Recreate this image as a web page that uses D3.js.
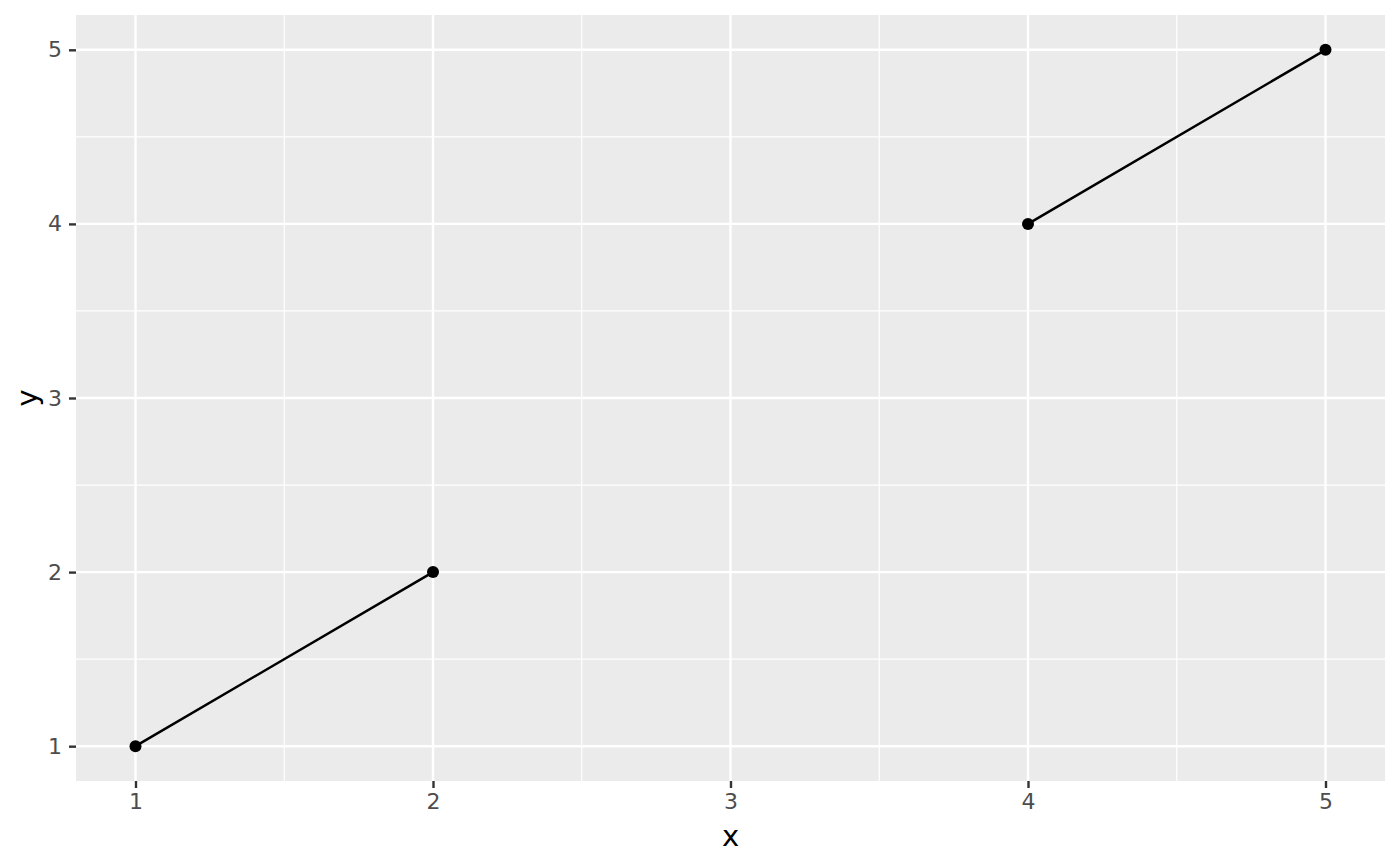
<!DOCTYPE html>
<html><head><meta charset="utf-8">
<script src="https://cdn.jsdelivr.net/npm/d3@7"></script>
<style>body{margin:0;background:#fff}svg{display:block}text{font-family:"DejaVu Sans",sans-serif}</style>
</head><body>
<svg id="c" width="1400" height="866"></svg>
<script>
const xValues = [1, 2, 3, 4, 5];
const yValues = [1, 2, null, 4, 5];
const xTicks = [1, 2, 3, 4, 5];
const yTicks = [1, 2, 3, 4, 5];
const xMinor = [1.5, 2.5, 3.5, 4.5];
const yMinor = [1.5, 2.5, 3.5, 4.5];

const svg = d3.select("#c");
const L = 76, R = 1385, T = 15, B = 781;
const x = d3.scaleLinear().domain([0.8, 5.2]).range([L, R]);
const y = d3.scaleLinear().domain([0.8, 5.2]).range([B, T]);

svg.append("rect").attr("x", L).attr("y", T).attr("width", R - L).attr("height", B - T).attr("fill", "#ebebeb");
const g = svg.append("g");
g.selectAll(".xm").data(xMinor).join("line").attr("x1", d => x(d)).attr("x2", d => x(d)).attr("y1", T).attr("y2", B).attr("stroke", "#fff").attr("stroke-width", 1.2);
g.selectAll(".ym").data(yMinor).join("line").attr("y1", d => y(d)).attr("y2", d => y(d)).attr("x1", L).attr("x2", R).attr("stroke", "#fff").attr("stroke-width", 1.2);
g.selectAll(".xM").data(xTicks).join("line").attr("x1", d => x(d)).attr("x2", d => x(d)).attr("y1", T).attr("y2", B).attr("stroke", "#fff").attr("stroke-width", 2.4);
g.selectAll(".yM").data(yTicks).join("line").attr("y1", d => y(d)).attr("y2", d => y(d)).attr("x1", L).attr("x2", R).attr("stroke", "#fff").attr("stroke-width", 2.4);

const data = xValues.map((v, i) => ({x: v, y: yValues[i]}));
const line = d3.line().defined(d => d.y != null).x(d => x(d.x)).y(d => y(d.y));
svg.append("path").datum(data).attr("d", line).attr("fill", "none").attr("stroke", "#000").attr("stroke-width", 2.5);
svg.selectAll(".pt").data(data.filter(d => d.y != null)).join("circle")
  .attr("cx", d => x(d.x)).attr("cy", d => y(d.y)).attr("r", 6).attr("fill", "#000");

const xAxis = svg.append("g").attr("transform", `translate(0,${B})`)
  .call(d3.axisBottom(x).tickValues(xTicks).tickFormat(d3.format("d")).tickSizeOuter(0).tickSize(7).tickPadding(5));
const yAxis = svg.append("g").attr("transform", `translate(${L},0)`)
  .call(d3.axisLeft(y).tickValues(yTicks).tickFormat(d3.format("d")).tickSizeOuter(0).tickSize(7).tickPadding(7));
[xAxis, yAxis].forEach(a => {
  a.select(".domain").remove();
  a.selectAll("line").attr("stroke", "#333").attr("stroke-width", 2.4);
  a.selectAll("text").attr("fill", "#4d4d4d").attr("font-size", 22).attr("font-family", "DejaVu Sans");
});

svg.append("text").attr("x", (L + R) / 2).attr("y", 846).attr("text-anchor", "middle").attr("fill", "#000").attr("font-size", 29).text("x");
svg.append("text").attr("transform", `translate(37,${(T + B) / 2}) rotate(-90)`).attr("text-anchor", "middle").attr("fill", "#000").attr("font-size", 29).text("y");
</script>
</body></html>
